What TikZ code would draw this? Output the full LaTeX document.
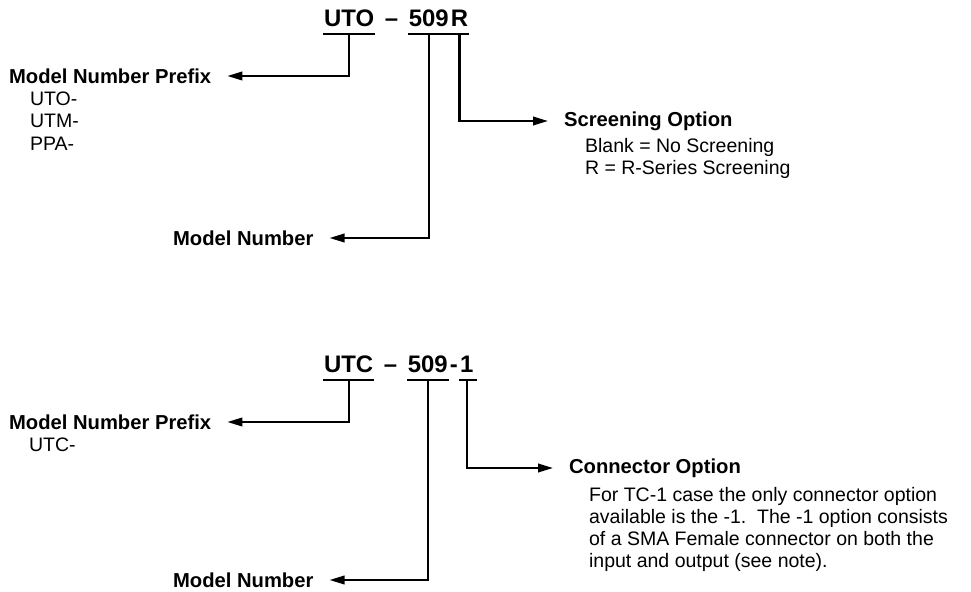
\documentclass[tikz,border=0pt]{standalone}
\usepackage{fontspec}
\setmainfont{Liberation Sans}
\usetikzlibrary{arrows.meta, positioning}

\begin{document}
\begin{tikzpicture}[
    >={Triangle[length=0.3cm, width=0.17cm]},
    line width=1.25pt,
    code/.style={font=\fontsize{13.6}{16}\selectfont\bfseries, inner xsep=0pt, inner ysep=0.12cm, text depth=0pt},
    codesep/.style={code, inner xsep=0.17cm},
    heading/.style={font=\fontsize{11.5}{13}\selectfont\bfseries, inner sep=0pt, anchor=west},
    items/.style={font=\fontsize{11.1}{12.6}\selectfont, inner sep=0pt, align=left},
    link/.style={->, shorten >=0.3cm}
]
\useasboundingbox (0,0) rectangle (19.42,-11.84);

% First part number (UTO - 509R)
\node (utoA) [code, anchor=base west] at (6.46, -0.54) {UTO};
\node (sepA) [codesep, base right=0pt of utoA] {–};
\node (numA) [code, base right=0pt of sepA] {509};
\node (optA) [code, base right=0pt of numA] {R};

\draw (utoA.south west) -- (utoA.south east);
\draw (numA.south west) -- (numA.south east);
\draw (optA.south west) -- (optA.south east);

% Labels
\node (prefixA) [heading] at (0.16, -1.52) {Model Number Prefix};
\node (prefixlistA) [items, below right=0.13cm and 0.42cm of prefixA.south west] {UTO-\\UTM-\\PPA-};
\node (modelA) [heading] at (3.44, -4.76) {Model Number};
\node (screenA) [heading] at (11.26, -2.42) {Screening Option};
\node (screenlistA) [items, below right=0.12cm and 0.42cm of screenA.south west] {Blank = No Screening\\R = R-Series Screening};

\draw[link] (utoA.south) |- (prefixA);
\draw[link] (numA.south) |- (modelA);
\draw[link] (optA.south) |- (screenA);

% Second part number (UTC - 509-1)
\node (utcB) [code, anchor=base west] at (6.46, -7.46) {UTC};
\node (sepB) [codesep, base right=0pt of utcB] {–};
\node (numB) [code, base right=0pt of sepB] {509};
\node (hyphB) [code, base right=0pt of numB] {-};
\node (optB) [code, base right=0pt of hyphB] {1};

\draw (utcB.south west) -- (utcB.south east);
\draw (numB.south west) -- (numB.south east);
\draw (optB.south west) -- ([xshift=0.05cm]optB.south east);

% Labels
\node (prefixB) [heading] at (0.16, -8.44) {Model Number Prefix};
\node (prefixlistB) [items, below right=0.13cm and 0.4cm of prefixB.south west] {UTC-};
\node (modelB) [heading] at (3.44, -11.6) {Model Number};
\node (connB) [heading] at (11.36, -9.36) {Connector Option};
\node (connlistB) [items, below right=0.15cm and 0.4cm of connB.south west]
    {For TC-1 case the only connector option\\available is the -1.\ \ The -1 option consists\\of a SMA Female connector on both the\\input and output (see note).};

\draw[link] (utcB.south) |- (prefixB);
\draw[link] (numB.south) |- (modelB);
\draw[link] (optB.south) |- (connB);

\end{tikzpicture}
\end{document}
